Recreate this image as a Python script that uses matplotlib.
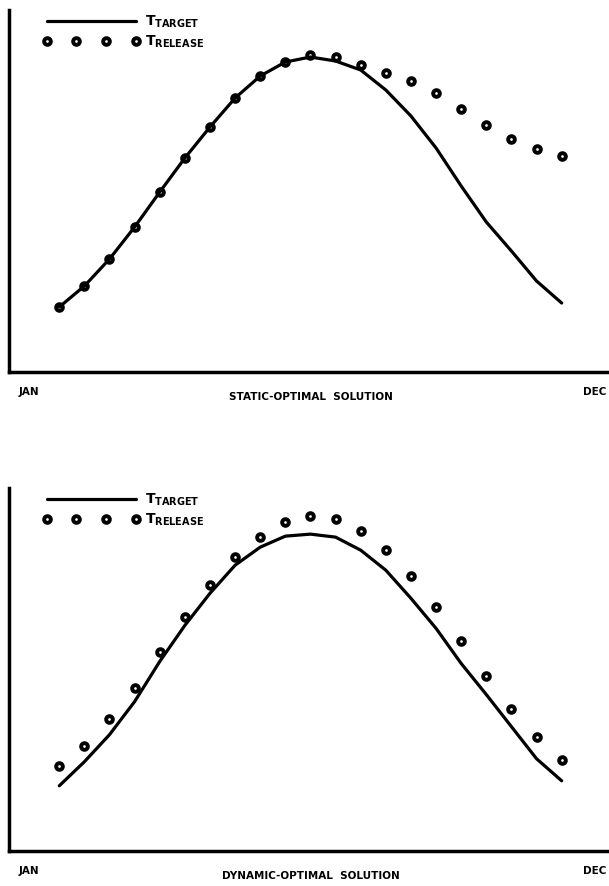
import matplotlib.pyplot as plt

# half-month steps from JAN to DEC
periods = list(range(21))

static_target = [6.5, 8.6, 11.3, 14.5, 18.0, 21.4, 24.5, 27.4, 29.6, 31.0, 31.5,
                 31.1, 30.2, 28.2, 25.6, 22.4, 18.6, 15.0, 12.1, 9.1, 6.9]
static_release = [6.5, 8.6, 11.3, 14.5, 18.0, 21.4, 24.5, 27.4, 29.6, 31.0, 31.7,
                  31.5, 30.7, 29.9, 29.1, 27.9, 26.3, 24.7, 23.3, 22.3, 21.6]

dynamic_target = [6.5, 8.9, 11.6, 14.9, 18.9, 22.5, 25.7, 28.5, 30.3, 31.4, 31.6,
                  31.3, 30.0, 28.0, 25.2, 22.2, 18.7, 15.6, 12.4, 9.2, 7.0]
dynamic_release = [8.5, 10.5, 13.2, 16.3, 19.8, 23.3, 26.5, 29.3, 31.3, 32.8, 33.4,
                   33.1, 31.9, 30.0, 27.4, 24.3, 20.9, 17.5, 14.2, 11.4, 9.1]

month_labels = ["JAN", "DEC"]
panel_titles = ["STATIC-OPTIMAL  SOLUTION", "DYNAMIC-OPTIMAL  SOLUTION"]

plt.rcParams["mathtext.fontset"] = "dejavusans"


def draw_panel(ax, target, release, title):
    ax.plot(periods, target, color="black", lw=2.3, zorder=3,
            solid_joinstyle="round", solid_capstyle="round",
            label=r"$\mathbf{T}_{\mathbf{TARGET}}$")
    ax.plot(periods, release, ls="none", marker="o", ms=4.8, mfc="white",
            mec="black", mew=2.8, zorder=2,
            label=r"$\mathbf{T}_{\mathbf{RELEASE}}$")
    ax.set_xlim(-2, 22)
    ax.set_ylim(0, 36.2)
    for side in ["top", "right"]:
        ax.spines[side].set_visible(False)
    ax.spines["left"].set_linewidth(2.5)
    ax.spines["bottom"].set_linewidth(2.5)
    ax.set_yticks([])
    ax.set_xticks([-1.2, 21.3])
    ax.set_xticklabels(month_labels, fontsize=7.5, fontweight="bold")
    ax.tick_params(axis="x", length=0, pad=11)
    ax.set_xlabel(title, fontsize=7.5, fontweight="bold", labelpad=-4)
    ax.legend(loc="upper left", frameon=False, numpoints=4, handlelength=7.0,
              handletextpad=0.4, labelspacing=0.25, fontsize=10,
              borderaxespad=0.2, bbox_to_anchor=(0.042, 1.012))


fig = plt.figure(figsize=(6.09, 8.86), dpi=100)
ax_top = fig.add_axes([0.0148, 0.5801, 0.99, 0.4086])
ax_bot = fig.add_axes([0.0148, 0.0395, 0.99, 0.4097])

draw_panel(ax_top, static_target, static_release, panel_titles[0])
draw_panel(ax_bot, dynamic_target, dynamic_release, panel_titles[1])

fig.savefig("out.png", dpi=100)
